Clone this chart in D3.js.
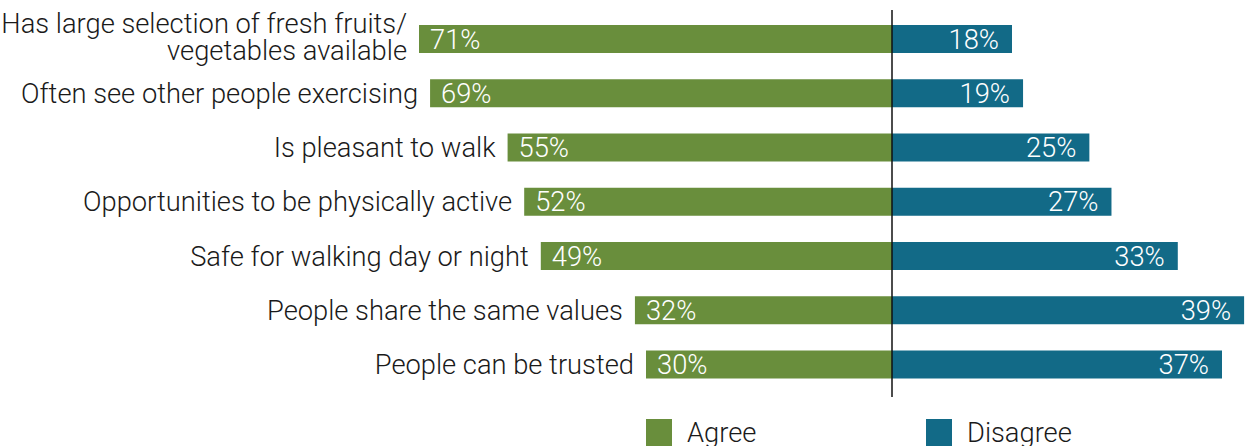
<!DOCTYPE html>
<html>
<head>
<meta charset="utf-8">
<script src="https://cdn.jsdelivr.net/npm/d3@7"></script>
<style>
  html, body { margin: 0; padding: 0; background: #fff; }
  svg { display: block; font-family: Roboto, "Open Sans", sans-serif; font-weight: 300; }
</style>
</head>
<body>
<svg id="chart" width="1245" height="446"></svg>
<script>
// Survey statements about the neighbourhood
const categories = [
  "Has large selection of fresh fruits/\nvegetables available",
  "Often see other people exercising",
  "Is pleasant to walk",
  "Opportunities to be physically active",
  "Safe for walking day or night",
  "People share the same values",
  "People can be trusted"
];
const agreeValues    = [71, 69, 55, 52, 49, 32, 30];
const disagreeValues = [18, 19, 25, 27, 33, 39, 37];
const seriesNames = ["Agree", "Disagree"];
const colors = { Agree: "#698e3c", Disagree: "#126a87" };

const svg = d3.select("#chart");
const centerX = 892;
const fontSize = 27.3;
const barH = 28;

// Row centres
const y = d3.scalePoint().domain(categories).range([39, 364.5]);

// Bar ends: agree bars grow to the left, disagree bars to the right
const xAgree = d3.scaleLinear()
  .domain([d3.min(agreeValues), d3.max(agreeValues)])
  .range([646, 419]);
const xDisagree = d3.scaleLinear()
  .domain([18, 37])
  .range([1012, 1222]);

const rows = categories.map((c, i) => ({ c, a: agreeValues[i], d: disagreeValues[i] }));

const g = svg.append("g");

// Agree bars
g.selectAll("rect.agree").data(rows).join("rect")
  .attr("class", "agree")
  .attr("x", d => xAgree(d.a))
  .attr("y", d => y(d.c) - barH / 2)
  .attr("width", d => centerX - xAgree(d.a))
  .attr("height", barH)
  .attr("fill", colors.Agree);

// Disagree bars
g.selectAll("rect.disagree").data(rows).join("rect")
  .attr("class", "disagree")
  .attr("x", centerX)
  .attr("y", d => y(d.c) - barH / 2)
  .attr("width", d => xDisagree(d.d) - centerX)
  .attr("height", barH)
  .attr("fill", colors.Disagree);

// Value labels
g.selectAll("text.va").data(rows).join("text")
  .attr("class", "va")
  .attr("x", d => xAgree(d.a) + 11)
  .attr("y", d => y(d.c) + 9.6)
  .attr("fill", "#fff")
  .attr("font-size", fontSize)
  .text(d => d.a + "%");

g.selectAll("text.vd").data(rows).join("text")
  .attr("class", "vd")
  .attr("x", d => xDisagree(d.d) - 13)
  .attr("y", d => y(d.c) + 9.6)
  .attr("text-anchor", "end")
  .attr("fill", "#fff")
  .attr("font-size", fontSize)
  .text(d => d.d + "%");

// Category labels, right-aligned against the agree bar
g.selectAll("text.cat").data(rows).join("text")
  .attr("class", "cat")
  .attr("text-anchor", "end")
  .attr("font-size", fontSize)
  .attr("fill", "#1a1a1a")
  .each(function(d) {
    const lines = d.c.split("\n");
    const t = d3.select(this);
    const x = xAgree(d.a) - 12;
    const lh = 27;
    const first = lines.length > 1 ? y(d.c) - 6 : y(d.c) + 9.6;
    lines.forEach((ln, k) => {
      t.append("tspan").attr("x", x).attr("y", first + k * lh).text(ln);
    });
  });

// Centre axis
svg.append("line")
  .attr("x1", centerX).attr("x2", centerX)
  .attr("y1", 10).attr("y2", 397)
  .attr("stroke", "#111").attr("stroke-width", 1.5);

// Legend
const legendX = { Agree: 646, Disagree: 926 };
const lg = svg.selectAll("g.legend").data(seriesNames).join("g")
  .attr("class", "legend")
  .attr("transform", d => `translate(${legendX[d]},419)`);
lg.append("rect")
  .attr("width", 26).attr("height", 30)
  .attr("fill", d => colors[d]);
lg.append("text")
  .attr("x", 41).attr("y", 23)
  .attr("font-size", fontSize)
  .attr("fill", "#1a1a1a")
  .text(d => d);
</script>
</body>
</html>
